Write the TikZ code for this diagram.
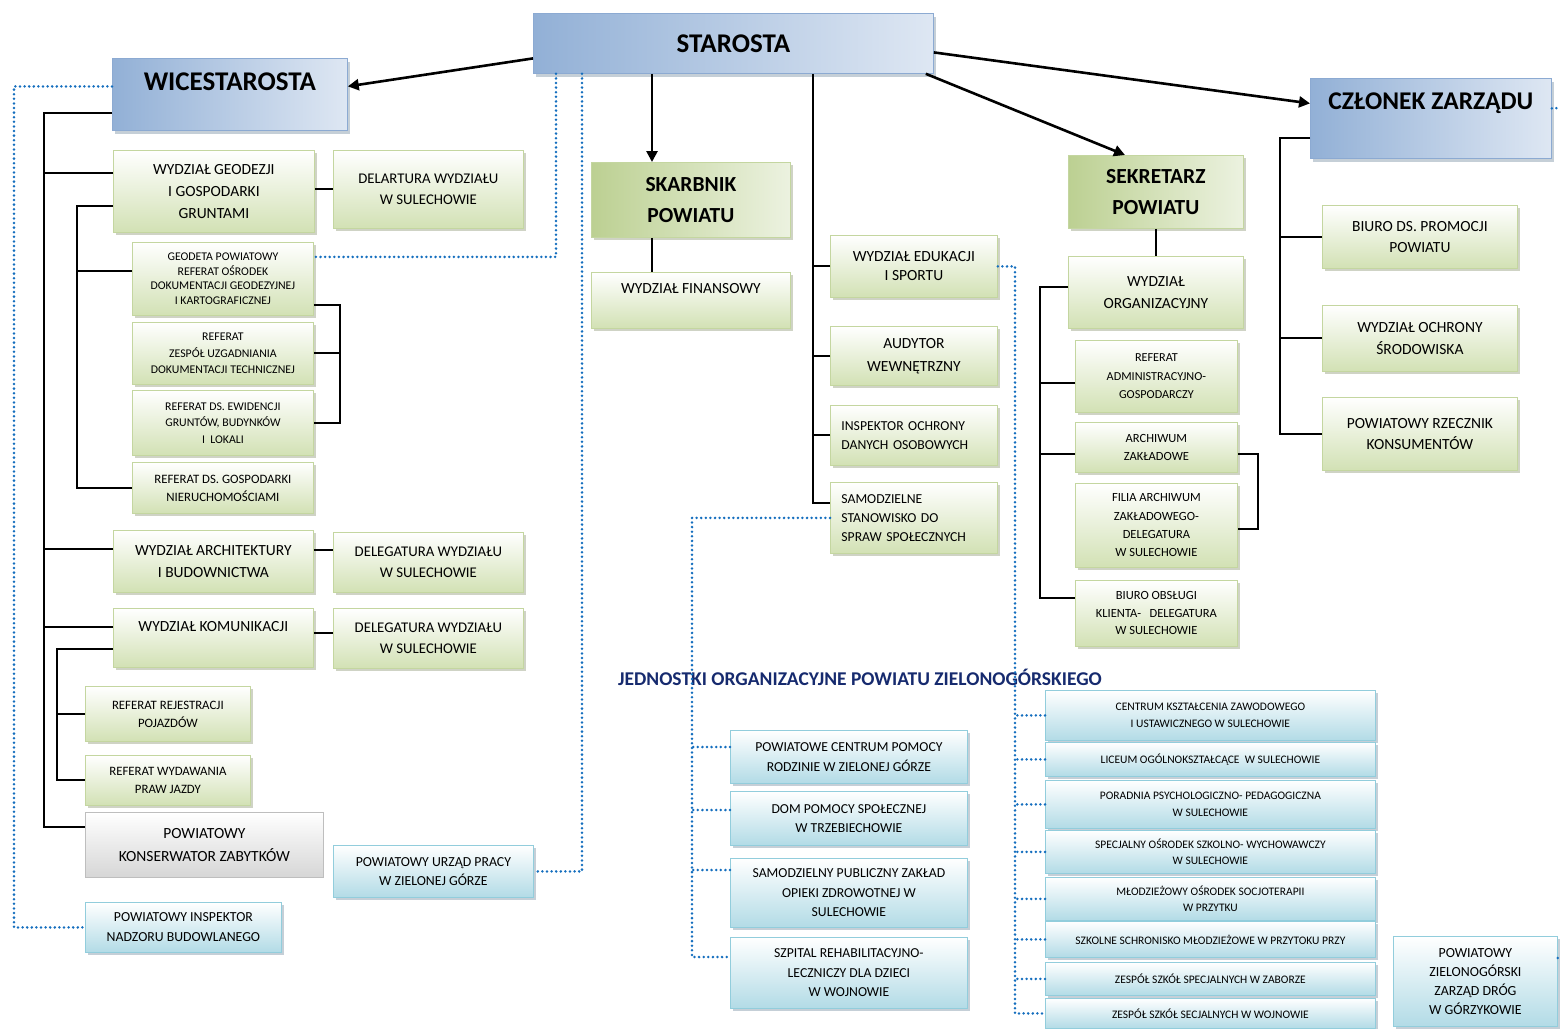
\documentclass[tikz,border=0pt]{standalone}
\usepackage{fontspec}
\setmainfont{Carlito}
\usepackage{tikz}
\usetikzlibrary{arrows.meta,shadows}
\usepackage{xcolor}
\definecolor{cGreen}{RGB}{210,225,180}
\definecolor{cGreenD}{RGB}{188,208,146}
\definecolor{cGreenP}{RGB}{236,242,224}
\definecolor{cGreenLine}{RGB}{196,214,160}
\definecolor{cGShadow}{RGB}{160,168,140}
\definecolor{cBlueD}{RGB}{146,176,214}
\definecolor{cBlueP}{RGB}{222,231,243}
\definecolor{cBlueLine}{RGB}{140,170,210}
\definecolor{cCyan}{RGB}{178,219,230}
\definecolor{cCyanLine}{RGB}{146,205,220}
\definecolor{cBShadow}{RGB}{140,160,175}
\definecolor{cGrey}{RGB}{214,214,214}
\definecolor{cGreyLine}{RGB}{190,190,190}
\definecolor{cDot}{RGB}{20,110,190}
\definecolor{cTitle}{RGB}{22,42,110}

\begin{document}
\begin{tikzpicture}[x=1pt, y=-1pt,
  boxbase/.style={anchor=north west, align=center, inner sep=2pt, line width=0.8pt},
  fN/.style 2 args={font=\fontsize{#1}{#2}\selectfont},
  gbox/.style={boxbase, draw=cGreenLine, top color=white, bottom color=cGreen,
    drop shadow={shadow xshift=2.5pt, shadow yshift=-3pt, fill=cGShadow}},
  gboxB/.style={boxbase, draw=cGreenLine, left color=cGreenD, right color=cGreenP,
    font=\bfseries\fontsize{21.5}{31}\selectfont,
    drop shadow={shadow xshift=2.5pt, shadow yshift=-3pt, fill=cGShadow}},
  hbox/.style={boxbase, draw=cBlueLine, left color=cBlueD, right color=cBlueP,
    font=\bfseries\fontsize{27}{32}\selectfont,
    drop shadow={shadow xshift=3pt, shadow yshift=-3.5pt, fill=cBShadow}},
  cbox/.style={boxbase, draw=cCyanLine, top color=white, bottom color=cCyan,
    drop shadow={shadow xshift=2.5pt, shadow yshift=-3pt, fill=cBShadow}},
  kbox/.style={boxbase, draw=cGreyLine, top color=white, bottom color=cGrey},
  conn/.style={line width=1.9pt},
  arr/.style={line width=2.6pt, -{Triangle[length=11pt,width=11pt]}},
  dots/.style={draw=cDot, line width=2.8pt, line cap=round, dash pattern=on 0pt off 4.6pt}
]
  \useasboundingbox (0,0) rectangle (1560,1028);

  % Heads
  \node[hbox, minimum width=400pt, minimum height=60pt] (staro) at (533,13) {STAROSTA};
  \node[hbox, minimum width=235pt, minimum height=72pt, text depth=25pt] (wice) at (112,58) {WICESTAROSTA};
  \node[hbox, font=\bfseries\fontsize{25.5}{30}\selectfont, minimum width=241pt, minimum height=80pt, text depth=35pt] (czlon) at (1310,78) {CZŁONEK ZARZĄDU};
  \node[gboxB, minimum width=199pt, minimum height=75pt] (skarb) at (591,162) {SKARBNIK\\POWIATU};
  \node[gboxB, minimum width=175pt, minimum height=73pt] (sekr) at (1068,155) {SEKRETARZ\\POWIATU};

  % Wicestarosta
  \node[gbox, fN={15.5}{22}, minimum width=201pt, minimum height=82pt] (geod) at (113,150) {WYDZIAŁ GEODEZJI\\I GOSPODARKI\\GRUNTAMI};
  \node[gbox, fN={14.8}{21}, minimum width=190pt, minimum height=78pt] (delar) at (333,150) {DELARTURA WYDZIAŁU\\W SULECHOWIE};
  \node[gbox, fN={11.8}{14.5}, minimum width=181pt, minimum height=73pt] (geodeta) at (132,242) {GEODETA POWIATOWY\\REFERAT OŚRODEK\\DOKUMENTACJI GEODEZYJNEJ\\I KARTOGRAFICZNEJ};
  \node[gbox, fN={11.8}{16.5}, minimum width=181pt, minimum height=62pt] (zespol) at (132,322) {REFERAT\\ZESPÓŁ UZGADNIANIA\\DOKUMENTACJI TECHNICZNEJ};
  \node[gbox, fN={11.8}{16.5}, minimum width=181pt, minimum height=65pt] (ewid) at (132,390) {REFERAT DS. EWIDENCJI\\GRUNTÓW, BUDYNKÓW\\I~~LOKALI};
  \node[gbox, fN={12.8}{18}, minimum width=181pt, minimum height=51pt] (nieruch) at (132,462) {REFERAT DS. GOSPODARKI\\NIERUCHOMOŚCIAMI};
  \node[gbox, fN={15.5}{22}, minimum width=200pt, minimum height=62pt] (arch) at (113,530) {WYDZIAŁ ARCHITEKTURY\\I BUDOWNICTWA};
  \node[gbox, fN={14.8}{21}, minimum width=190pt, minimum height=60pt] (delegA) at (333,532) {DELEGATURA WYDZIAŁU\\W SULECHOWIE};
  \node[gbox, fN={15.5}{22}, minimum width=200pt, minimum height=59pt, text depth=23pt] (komun) at (113,608) {WYDZIAŁ KOMUNIKACJI};
  \node[gbox, fN={14.8}{21}, minimum width=190pt, minimum height=60pt] (delegB) at (333,608) {DELEGATURA WYDZIAŁU\\W SULECHOWIE};
  \node[gbox, fN={12.8}{18}, minimum width=165pt, minimum height=55pt] (rejestr) at (85,686) {REFERAT REJESTRACJI\\POJAZDÓW};
  \node[gbox, fN={12.8}{18}, minimum width=165pt, minimum height=50pt] (wydaw) at (85,755) {REFERAT WYDAWANIA\\PRAW JAZDY};
  \node[kbox, fN={15.5}{23}, minimum width=238pt, minimum height=65pt] (konserw) at (85,812) {POWIATOWY\\KONSERWATOR ZABYTKÓW};
  \node[cbox, fN={13.8}{19}, minimum width=200pt, minimum height=52pt] (urzad) at (333,845) {POWIATOWY URZĄD PRACY\\W ZIELONEJ GÓRZE};
  \node[cbox, fN={13.8}{20}, minimum width=196pt, minimum height=50pt] (inspB) at (85,902) {POWIATOWY INSPEKTOR\\NADZORU BUDOWLANEGO};

  % Starosta
  \node[gbox, fN={15.5}{22}, minimum width=199pt, minimum height=56pt, text depth=23pt] (finans) at (591,272) {WYDZIAŁ FINANSOWY};
  \node[gbox, fN={15.5}{19}, minimum width=167pt, minimum height=62pt] (eduk) at (830,235) {WYDZIAŁ EDUKACJI\\I SPORTU};
  \node[gbox, fN={15.5}{23}, minimum width=167pt, minimum height=59pt] (audyt) at (830,326) {AUDYTOR\\WEWNĘTRZNY};
  \node[gbox, fN={13.7}{19}, minimum width=167pt, minimum height=60pt, text width=145pt, align=left] (iodo) at (830,405) {INSPEKTOR OCHRONY\\DANYCH OSOBOWYCH};
  \node[gbox, fN={13.7}{19}, minimum width=167pt, minimum height=71pt, text width=145pt, align=left] (samodz) at (830,482) {SAMODZIELNE\\STANOWISKO DO\\SPRAW SPOŁECZNYCH};

  % Sekretarz
  \node[gbox, fN={15.5}{22}, minimum width=175pt, minimum height=72pt] (organ) at (1068,256) {WYDZIAŁ\\ORGANIZACYJNY};
  \node[gbox, fN={12.2}{18.5}, minimum width=162pt, minimum height=72pt] (refadm) at (1075,340) {REFERAT\\ADMINISTRACYJNO-\\GOSPODARCZY};
  \node[gbox, fN={12.5}{18}, minimum width=162pt, minimum height=50pt] (archiw) at (1075,422) {ARCHIWUM\\ZAKŁADOWE};
  \node[gbox, fN={12.5}{18.3}, minimum width=162pt, minimum height=84pt] (filia) at (1075,483) {FILIA ARCHIWUM\\ZAKŁADOWEGO-\\DELEGATURA\\W SULECHOWIE};
  \node[gbox, fN={12.5}{17.5}, minimum width=162pt, minimum height=66pt] (biuro) at (1075,580) {BIURO OBSŁUGI\\KLIENTA-~~~DELEGATURA\\W SULECHOWIE};

  % Czlonek zarzadu
  \node[gbox, fN={15.5}{21}, minimum width=195pt, minimum height=63pt] (promo) at (1322,205) {BIURO DS. PROMOCJI\\POWIATU};
  \node[gbox, fN={15.5}{22}, minimum width=195pt, minimum height=66pt] (ochrona) at (1322,305) {WYDZIAŁ OCHRONY\\ŚRODOWISKA};
  \node[gbox, fN={15.5}{21}, minimum width=195pt, minimum height=73pt] (rzecz) at (1322,397) {POWIATOWY RZECZNIK\\KONSUMENTÓW};

  % Jednostki
  \node[font=\bfseries\fontsize{19.5}{23}\selectfont, text=cTitle] (jedn) at (860,677) {JEDNOSTKI ORGANIZACYJNE POWIATU ZIELONOGÓRSKIEGO};
  \node[cbox, fN={13.7}{20}, minimum width=237pt, minimum height=53pt] (pcpr) at (730,730) {POWIATOWE CENTRUM POMOCY\\RODZINIE W ZIELONEJ GÓRZE};
  \node[cbox, fN={13.7}{19}, minimum width=237pt, minimum height=54pt] (dps) at (730,791) {DOM POMOCY SPOŁECZNEJ\\W TRZEBIECHOWIE};
  \node[cbox, fN={13.7}{19.5}, minimum width=237pt, minimum height=69pt] (spzoz) at (730,858) {SAMODZIELNY PUBLICZNY ZAKŁAD\\OPIEKI ZDROWOTNEJ W\\SULECHOWIE};
  \node[cbox, fN={13.7}{19.5}, minimum width=237pt, minimum height=71pt] (szpital) at (730,937) {SZPITAL REHABILITACYJNO-\\LECZNICZY DLA DZIECI\\W WOJNOWIE};
  \node[cbox, fN={11.5}{17}, minimum width=330pt, minimum height=50pt] (ckz) at (1045,690) {CENTRUM KSZTAŁCENIA ZAWODOWEGO\\I USTAWICZNEGO W SULECHOWIE};
  \node[cbox, fN={11.5}{17}, minimum width=330pt, minimum height=34pt] (lo) at (1045,742) {LICEUM OGÓLNOKSZTAŁCĄCE~~W SULECHOWIE};
  \node[cbox, fN={11.5}{17}, minimum width=330pt, minimum height=48pt] (ppp) at (1045,780) {PORADNIA PSYCHOLOGICZNO- PEDAGOGICZNA\\W SULECHOWIE};
  \node[cbox, fN={11.5}{16}, minimum width=330pt, minimum height=43pt] (sosw) at (1045,830) {SPECJALNY OŚRODEK SZKOLNO- WYCHOWAWCZY\\W SULECHOWIE};
  \node[cbox, fN={11.5}{16}, minimum width=330pt, minimum height=43pt] (mos) at (1045,877) {MŁODZIEŻOWY OŚRODEK SOCJOTERAPII\\W PRZYTKU};
  \node[cbox, fN={11.5}{16}, minimum width=330pt, minimum height=36pt] (ssm) at (1045,921) {SZKOLNE SCHRONISKO MŁODZIEŻOWE W PRZYTOKU PRZY};
  \node[cbox, fN={11.5}{16}, minimum width=330pt, minimum height=33pt] (zss1) at (1045,962) {ZESPÓŁ SZKÓŁ SPECJALNYCH W ZABORZE};
  \node[cbox, fN={11.5}{16}, minimum width=330pt, minimum height=30pt] (zss2) at (1045,998) {ZESPÓŁ SZKÓŁ SECJALNYCH W WOJNOWIE};
  \node[cbox, fN={13.9}{19}, minimum width=164pt, minimum height=90pt] (zdrog) at (1393,936) {POWIATOWY\\ZIELONOGÓRSKI\\ZARZĄD DRÓG\\W GÓRZYKOWIE};

  % Trunks and attach points
  \coordinate (tA) at (44,0);
  \coordinate (tB) at (77,0);
  \coordinate (tC) at (340,0);
  \coordinate (tD) at (57,0);
  \coordinate (tE) at (813,0);
  \coordinate (tF) at (1040,0);
  \coordinate (tG) at (1258,0);
  \coordinate (tH) at (1280,0);
  \coordinate (dL) at (14,0);
  \coordinate (dM) at (692,0);
  \coordinate (dR) at (1015,0);
  \coordinate (wiceS) at ([yshift=-19pt]wice.west);
  \coordinate (wiceD) at ([yshift=8pt]wice.west);
  \coordinate (geodA) at ([yshift=18pt]geod.west);
  \coordinate (geodB) at ([yshift=-15pt]geod.west);
  \coordinate (geodetaB) at ([yshift=8pt]geodeta.west);
  \coordinate (geodetaR) at ([yshift=-26pt]geodeta.east);
  \coordinate (geodetaD) at ([yshift=22pt]geodeta.east);
  \coordinate (archA) at ([yshift=12pt]arch.west);
  \coordinate (archR) at ([yshift=11pt]arch.east);
  \coordinate (komunA) at ([yshift=11pt]komun.west);
  \coordinate (komunB) at ([yshift=-11pt]komun.west);
  \coordinate (komunR) at ([yshift=5pt]komun.east);
  \coordinate (konserwA) at ([yshift=18pt]konserw.west);
  \coordinate (staroD1) at ([xshift=23pt]staro.south west);
  \coordinate (staroD2) at ([xshift=49pt]staro.south west);
  \coordinate (skA) at ([xshift=61pt]skarb.north west);
  \coordinate (samodzA) at ([yshift=15pt]samodz.west);
  \coordinate (refadmA) at ([yshift=-7pt]refadm.west);
  \coordinate (archiwA) at ([yshift=-7pt]archiw.west);
  \coordinate (archiwR) at ([yshift=-7pt]archiw.east);
  \coordinate (filiaR) at ([yshift=-4pt]filia.east);
  \coordinate (biuroA) at ([yshift=15pt]biuro.west);
  \coordinate (czlonS) at ([yshift=-20pt]czlon.west);
  \coordinate (czlonD) at ([yshift=10pt]czlon.east);
  \coordinate (czlonE) at (1560,108);
  \coordinate (zdrogD) at ([yshift=-22pt]zdrog.north east);
  \coordinate (zdrogE) at (1560,958);
  \coordinate (pcprD) at ([yshift=-17pt]pcpr.north west);
  \coordinate (dpsD) at ([yshift=-19pt]dps.north west);
  \coordinate (spzozD) at ([yshift=-12pt]spzoz.north west);
  \coordinate (szpitalD) at ([yshift=-20pt]szpital.north west);

  % Arrows from Starosta
  \draw[arr] ([yshift=-15pt]staro.west) -- ([yshift=8pt]wice.east);
  \draw[arr] ([yshift=-9pt]staro.east) -- ([yshift=15pt]czlon.west);
  \draw[arr] ([xshift=-8pt]staro.south east) -- ([xshift=57pt]sekr.north west);
  \draw[arr] (staro.south -| skA) -- (skA);
  \draw[conn] (skarb.south -| skA) -- (finans.north -| skA);

  % Wicestarosta lines
  \draw[conn] (wiceS) -| (tA |- konserwA) -- (konserwA);
  \draw[conn] (geodA) -- (geodA -| tA);
  \draw[conn] (archA) -- (archA -| tA);
  \draw[conn] (komunA) -- (komunA -| tA);
  \draw[conn] (geodB) -| (tB |- nieruch.west) -- (nieruch.west);
  \draw[conn] (geodetaB) -- (geodetaB -| tB);
  \draw[conn] (geodetaR) -| (tC |- ewid.east) -- (ewid.east);
  \draw[conn] (zespol.east) -- (zespol.east -| tC);
  \draw[conn] (delar.west -| geod.east) -- (delar.west);
  \draw[conn] (archR) -- (archR -| delegA.west);
  \draw[conn] (komunR) -- (komunR -| delegB.west);
  \draw[conn] (komunB) -| (tD |- wydaw.west) -- (wydaw.west);
  \draw[conn] (rejestr.west) -- (rejestr.west -| tD);

  % Starosta lines
  \draw[conn] (staro.south -| tE) |- (samodzA);
  \draw[conn] (eduk.west) -- (eduk.west -| tE);
  \draw[conn] (audyt.west) -- (audyt.west -| tE);
  \draw[conn] (iodo.west) -- (iodo.west -| tE);

  % Sekretarz lines
  \draw[conn] (sekr.south) -- (organ.north);
  \draw[conn] ([yshift=5pt]organ.west) -| (tF |- biuroA) -- (biuroA);
  \draw[conn] (refadmA) -- (refadmA -| tF);
  \draw[conn] (archiwA) -- (archiwA -| tF);
  \draw[conn] (archiwR) -| (tG |- filiaR) -- (filiaR);

  % Czlonek lines
  \draw[conn] (czlonS) -| (tH |- rzecz.west) -- (rzecz.west);
  \draw[conn] (promo.west) -- (promo.west -| tH);
  \draw[conn] (ochrona.west) -- (ochrona.west -| tH);

  % Dotted links
  \draw[dots] (wiceD) -| (dL |- inspB.west) -- (inspB.west);
  \draw[dots] (staroD1) |- (geodetaD);
  \draw[dots] (staroD2) |- (urzad.east);
  \draw[dots] (czlonD) -- (czlonE);
  \draw[dots] (zdrogD) -- (zdrogE);
  \draw[dots] (samodz.west) -| (dM |- szpitalD) -- (szpitalD);
  \draw[dots] (pcprD) -- (pcprD -| dM);
  \draw[dots] (dpsD) -- (dpsD -| dM);
  \draw[dots] (spzozD) -- (spzozD -| dM);
  \draw[dots] (eduk.east) -| (dR |- zss2.west) -- (zss2.west);
  \draw[dots] (ckz.west) -- (ckz.west -| dR);
  \draw[dots] (lo.west) -- (lo.west -| dR);
  \draw[dots] (ppp.west) -- (ppp.west -| dR);
  \draw[dots] (sosw.west) -- (sosw.west -| dR);
  \draw[dots] (mos.west) -- (mos.west -| dR);
  \draw[dots] (ssm.west) -- (ssm.west -| dR);
  \draw[dots] (zss1.west) -- (zss1.west -| dR);
\end{tikzpicture}
\end{document}
